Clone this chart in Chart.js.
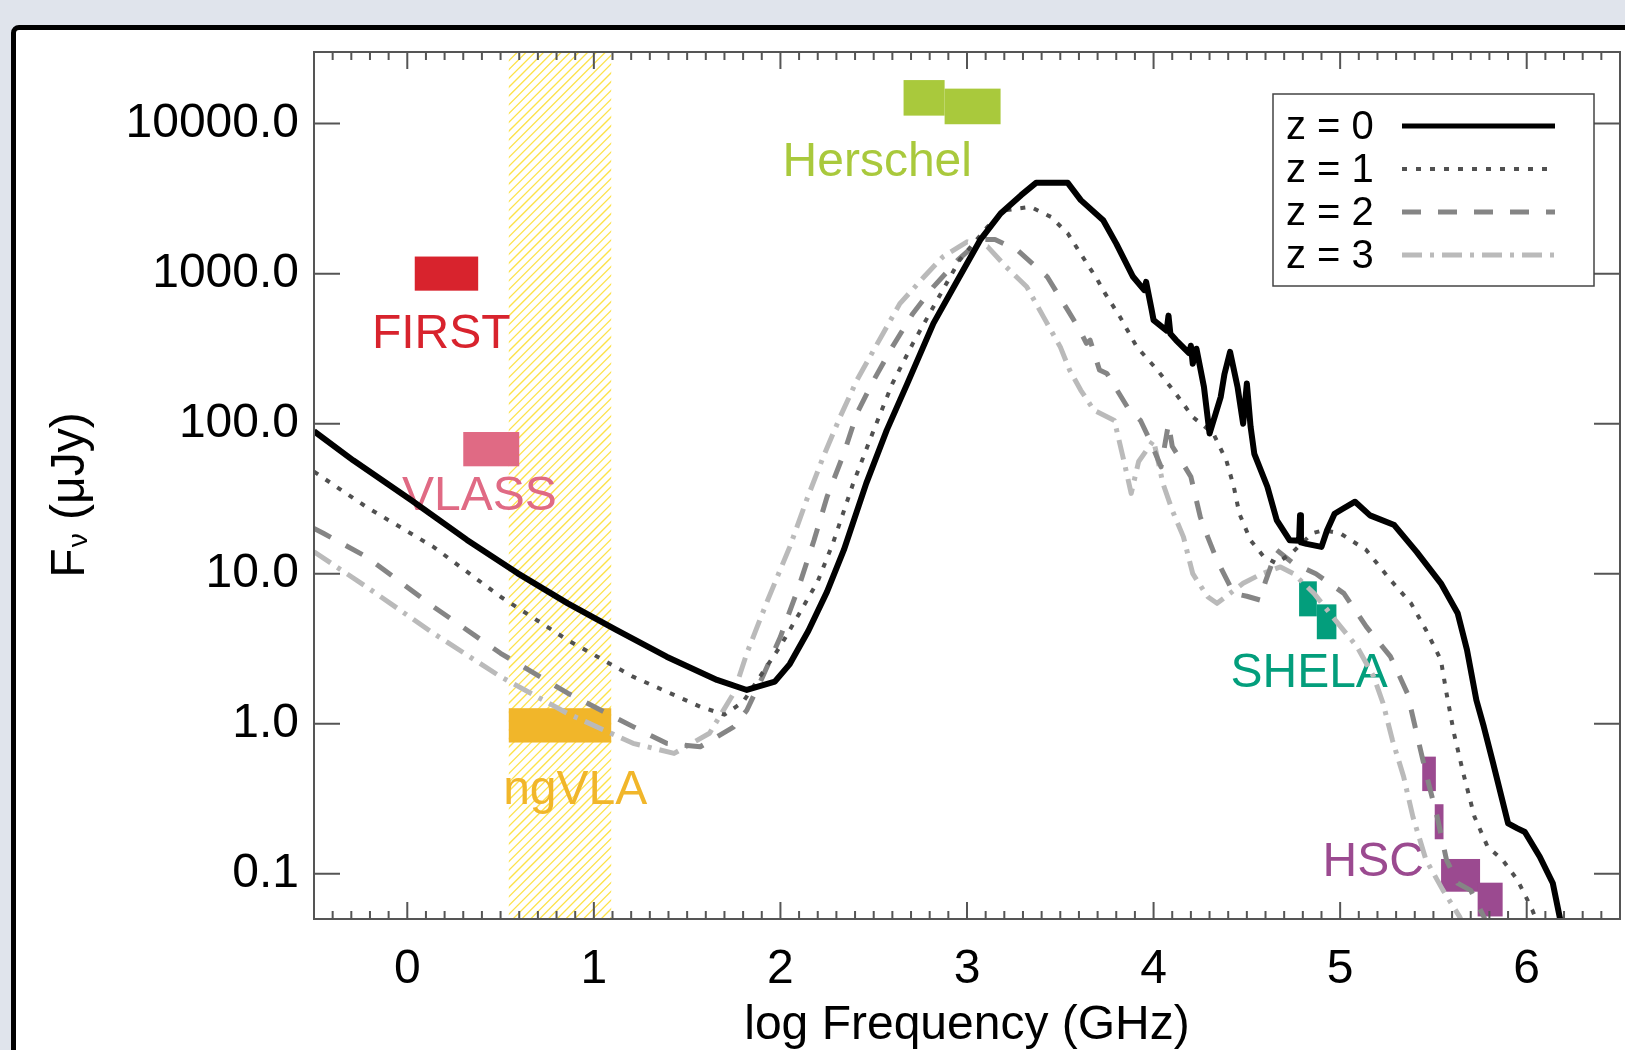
<!DOCTYPE html>
<html>
<head>
<meta charset="utf-8">
<title>SED templates vs survey depths</title>
<script src="https://cdn.jsdelivr.net/npm/chart.js@4.4.1/dist/chart.umd.min.js"></script>
<style>
  html, body { margin: 0; padding: 0; background: #e0e4ec; overflow: hidden; }
  #frame { position: absolute; left: 11px; top: 25px; width: 1700px; height: 1100px;
           border: 5px solid #000; border-radius: 8px; background: #fff; }
  #wrap { position: absolute; left: 0; top: 0; width: 1625px; height: 1050px; }
</style>
</head>
<body>
<div id="frame"></div>
<div id="wrap"><canvas id="sedChart" width="1625" height="1050"></canvas></div>
<script>
// SED TEMPLATES: x = log frequency (GHz), y = flux density (uJy)
const z0Freq = [-0.50, -0.29, 0.02, 0.32, 0.59, 0.86, 1.12, 1.39, 1.66, 1.82, 1.97, 2.05, 2.15, 2.25, 2.34, 2.46, 2.57, 2.68, 2.82, 2.95,
  3.07, 3.18, 3.29, 3.37, 3.54, 3.61, 3.73, 3.80, 3.89, 3.95, 3.96, 3.99, 4.00, 4.07, 4.08, 4.09, 4.12, 4.19, 4.20, 4.21,
  4.23, 4.27, 4.30, 4.36, 4.38, 4.41, 4.45, 4.48, 4.50, 4.52, 4.54, 4.61, 4.66, 4.73, 4.78, 4.785, 4.79, 4.82, 4.90, 4.93,
  4.97, 5.01, 5.08, 5.16, 5.29, 5.41, 5.54, 5.63, 5.68, 5.73, 5.77, 5.82, 5.90, 5.95, 5.99, 6.07, 6.14, 6.18, 6.20];
const z0Flux = [89, 57, 31, 16.8, 10.1, 6.35, 4.22, 2.80, 1.96, 1.68, 1.91, 2.5, 4.17, 7.6, 14.4, 40, 90.6, 185, 466, 906,
  1671, 2518, 3334, 4027, 4027, 3090, 2270, 1585, 953, 776, 881, 571, 490, 417, 525, 398, 361, 295, 331, 251,
  316, 176, 86, 151, 214, 301, 176, 100, 185, 95.5, 63, 38, 22.8, 16.7, 16.6, 24.5, 16.2, 15.8, 15.1, 19.5,
  25.1, 26.9, 30.2, 24.5, 21.1, 14.0, 8.63, 5.45, 3.10, 1.44, 0.957, 0.546, 0.217, 0.201, 0.19, 0.130, 0.0865, 0.0493, 0.0316];

const z1Freq = [-0.50, -0.22, 0.14, 0.50, 0.86, 1.21, 1.57, 1.70, 1.80, 1.90, 2.00, 2.10, 2.20, 2.28, 2.39, 2.50, 2.60, 2.71, 2.82, 2.96,
  3.11, 3.21, 3.34, 3.45, 3.54, 3.62, 3.70, 3.74, 3.82, 3.91, 4.02, 4.12, 4.21, 4.32, 4.39, 4.43, 4.46, 4.52, 4.59, 4.66,
  4.75, 4.85, 4.91, 5.00, 5.14, 5.27, 5.38, 5.46, 5.54, 5.57, 5.61, 5.66, 5.72, 5.79, 5.87, 5.95, 6.03, 6.08];
const z1Flux = [47.9, 27.9, 15.1, 7.03, 3.61, 2.06, 1.30, 1.15, 1.4, 2.15, 3.3, 5.4, 8.9, 15.8, 40, 90.6, 185, 343, 601, 1230,
  2051, 2649, 2786, 2388, 1854, 1294, 906, 738, 515, 325, 228, 158, 111, 86, 57, 38, 25.1, 16.7, 13.0, 11.7,
  14.1, 18.6, 19.5, 18.6, 14.4, 9.08, 6.35, 4.22, 2.66, 1.60, 0.865, 0.468, 0.240, 0.152, 0.124, 0.0912, 0.0575, 0.040];

const z2Freq = [-0.50, -0.45, -0.22, 0.14, 0.50, 0.86, 1.21, 1.39, 1.57, 1.75, 1.82, 1.90, 2.00, 2.10, 2.18, 2.25, 2.34, 2.41, 2.50, 2.60,
  2.71, 2.82, 2.95, 3.05, 3.09, 3.15, 3.27, 3.43, 3.54, 3.60, 3.64, 3.66, 3.71, 3.75, 3.86, 3.93, 3.98, 4.04, 4.08, 4.10,
  4.20, 4.25, 4.29, 4.34, 4.43, 4.50, 4.57, 4.60, 4.66, 4.75, 4.87, 5.02, 5.14, 5.27, 5.36, 5.41, 5.46, 5.52, 5.57, 5.63,
  5.70, 5.77, 5.80];
const z2Flux = [20, 18.6, 13.0, 6.03, 2.95, 1.60, 0.957, 0.741, 0.703, 0.955, 1.23, 2.0, 3.8, 8.3, 16.7, 32.6, 63.4, 117, 195, 325,
  543, 817, 1230, 1585, 1690, 1690, 1435, 953, 571, 430, 343, 360, 228, 216, 129, 105, 77.6, 51.6, 100, 70.8,
  44.3, 24, 17.6, 12.3, 7.40, 7.08, 6.68, 8.9, 14.4, 11.7, 10, 7.40, 4.44, 2.80, 1.60, 0.865, 0.468, 0.240, 0.124, 0.0865,
  0.0776, 0.0519, 0.040];

const z3Freq = [-0.50, -0.22, 0.14, 0.50, 0.86, 1.21, 1.43, 1.62, 1.75, 1.82, 1.93, 2.05, 2.14, 2.23, 2.32, 2.41, 2.52, 2.64, 2.77, 2.87,
  3.00, 3.11, 3.21, 3.32, 3.41, 3.50, 3.55, 3.61, 3.68, 3.79, 3.84, 3.88, 3.92, 4.00, 4.05, 4.10, 4.16, 4.21, 4.29, 4.34,
  4.40, 4.48, 4.58, 4.68, 4.75, 4.86, 4.96, 5.09, 5.18, 5.23, 5.28, 5.34, 5.39, 5.46, 5.55, 5.64, 5.68];
const z3Flux = [14.0, 8.20, 4.01, 2.06, 1.17, 0.741, 0.635, 0.865, 1.60, 2.95, 6.6, 15.1, 30.9, 60.3, 111, 195, 343, 631, 953, 1294,
  1629, 1514, 1109, 817, 515, 325, 228, 167, 123, 105, 57.1, 34.3, 56, 77.6, 40, 26.5, 17.6, 10, 7.03, 6.35,
  7.24, 8.63, 10, 11.1, 10, 7.40, 5.16, 3.27, 2.06, 1.37, 0.780, 0.445, 0.240, 0.124, 0.0782, 0.0519, 0.040];

const xTickValues = [0, 1, 2, 3, 4, 5, 6];
const yTickValues = [0.1, 1, 10, 100, 1000, 10000];

// SURVEY DEPTH BOXES: [logFreqMin, logFreqMax, fluxMin, fluxMax]
const firstBoxes = [[0.04, 0.38, 770, 1300]];
const vlassBoxes = [[0.30, 0.60, 52, 88]];
const ngvlaBoxes = [[0.544, 1.093, 0.75, 1.27]];
const ngvlaBand = [0.544, 1.093];
const herschelBoxes = [[2.66, 2.88, 11300, 19500], [2.88, 3.18, 9900, 17100]];
const shelaBoxes = [[4.78, 4.875, 5.2, 8.9], [4.875, 4.98, 3.66, 6.25]];
const hscBoxes = [[5.44, 5.513, 0.356, 0.604], [5.507, 5.554, 0.170, 0.291],
  [5.541, 5.75, 0.076, 0.1256], [5.737, 5.871, 0.052, 0.0873]];

const FONT = "'Liberation Sans', Arial, Helvetica, sans-serif";
Chart.defaults.font.family = FONT;

// label anchor = [log freq of text centre, flux at baseline]
const instruments = [
  { name: "FIRST", boxes: firstBoxes, color: "#d8232d", label: [0.182, 318] },
  { name: "VLASS", boxes: vlassBoxes, color: "#e06a84", label: [0.386, 26.6] },
  { name: "ngVLA", boxes: ngvlaBoxes, color: "#f1b62a", label: [0.90, 0.292] },
  { name: "Herschel", boxes: herschelBoxes, color: "#a9c93c", label: [2.519, 4470] },
  { name: "SHELA", boxes: shelaBoxes, color: "#039e7c", label: [4.834, 1.77] },
  { name: "HSC", boxes: hscBoxes, color: "#9b4a90", label: [5.177, 0.0973] },
];

function toPoints(xs, ys) {
  return xs.map((x, i) => ({ x: x, y: ys[i] }));
}

const decorPlugin = {
  id: "decor",
  beforeDatasetsDraw(chart) {
    const { ctx, chartArea: a, scales: { x, y } } = chart;
    ctx.save();
    ctx.beginPath();
    ctx.rect(a.left, a.top, a.right - a.left, a.bottom - a.top);
    ctx.clip();

    // HATCHED ngVLA BAND
    const bx0 = x.getPixelForValue(ngvlaBand[0]);
    const bx1 = x.getPixelForValue(ngvlaBand[1]);
    const h = a.bottom - a.top;
    ctx.save();
    ctx.beginPath();
    ctx.rect(bx0, a.top, bx1 - bx0, h);
    ctx.clip();
    ctx.beginPath();
    for (let s = bx0 - h; s < bx1; s += 8.8) {
      ctx.moveTo(s, a.bottom);
      ctx.lineTo(s + h, a.top);
    }
    ctx.strokeStyle = "#fde24a";
    ctx.lineWidth = 1.3;
    ctx.stroke();
    ctx.restore();

    // SURVEY BOXES + NAMES
    ctx.font = "48px " + FONT;
    ctx.textAlign = "center";
    ctx.textBaseline = "alphabetic";
    instruments.forEach((inst) => {
      ctx.fillStyle = inst.color;
      inst.boxes.forEach((b) => {
        const px0 = x.getPixelForValue(b[0]);
        const px1 = x.getPixelForValue(b[1]);
        const py0 = y.getPixelForValue(b[3]);
        const py1 = y.getPixelForValue(b[2]);
        ctx.fillRect(px0, py0, px1 - px0, py1 - py0);
      });
      ctx.fillText(inst.name, x.getPixelForValue(inst.label[0]), y.getPixelForValue(inst.label[1]));
    });
    ctx.restore();
  },
  afterDatasetsDraw(chart) {
    const { ctx, chartArea: a, scales: { x, y } } = chart;
    ctx.save();

    // FRAME + INWARD TICKS
    ctx.strokeStyle = "#555";
    ctx.lineWidth = 2;
    ctx.strokeRect(a.left, a.top, a.right - a.left, a.bottom - a.top);
    ctx.beginPath();
    y.ticks.forEach((t) => {
      const py = y.getPixelForValue(t.value);
      ctx.moveTo(a.left, py);
      ctx.lineTo(a.left + 26, py);
      ctx.moveTo(a.right - 26, py);
      ctx.lineTo(a.right, py);
    });
    for (let k = -5; k <= 65; k++) {
      const px = x.getPixelForValue(k / 10);
      const len = k % 10 === 0 ? 17 : 8;
      ctx.moveTo(px, a.bottom);
      ctx.lineTo(px, a.bottom - len);
      ctx.moveTo(px, a.top);
      ctx.lineTo(px, a.top + len);
    }
    ctx.stroke();

    // LEGEND
    const lx = a.right - 347, ly = a.top + 42, lw = 321, lh = 192;
    ctx.fillStyle = "#fff";
    ctx.fillRect(lx, ly, lw, lh);
    ctx.strokeStyle = "#444";
    ctx.lineWidth = 1.5;
    ctx.strokeRect(lx, ly, lw, lh);
    ctx.font = "40px " + FONT;
    ctx.textAlign = "left";
    ctx.textBaseline = "alphabetic";
    chart.data.datasets.forEach((ds, i) => {
      const cy = ly + 31 + i * 43;
      ctx.fillStyle = "#000";
      ctx.fillText(ds.label, lx + 13, cy + 14);
      ctx.beginPath();
      ctx.setLineDash(ds.borderDash || []);
      ctx.strokeStyle = ds.borderColor;
      ctx.lineWidth = Math.min(ds.borderWidth, 5);
      ctx.moveTo(lx + 129, cy + 1);
      ctx.lineTo(lx + 282, cy + 1);
      ctx.stroke();
    });
    ctx.setLineDash([]);

    // AXIS TITLES
    ctx.fillStyle = "#000";
    ctx.font = "48px " + FONT;
    ctx.textAlign = "center";
    ctx.fillText("log Frequency (GHz)", (a.left + a.right) / 2, a.bottom + 120);

    ctx.translate(84, (a.top + a.bottom) / 2 + 10);
    ctx.rotate(-Math.PI / 2);
    ctx.textAlign = "left";
    const big = "48px " + FONT, small = "28px " + FONT;
    ctx.font = big;
    const wF = ctx.measureText("F").width;
    const wRest = ctx.measureText(" (μJy)").width;
    ctx.font = small;
    const wNu = ctx.measureText("ν").width;
    let sx = -(wF + wNu + wRest) / 2;
    ctx.font = big;
    ctx.fillText("F", sx, 0);
    sx += wF;
    ctx.font = small;
    ctx.fillText("ν", sx + 1, 3);
    sx += wNu + 1;
    ctx.font = big;
    ctx.fillText(" (μJy)", sx, 0);
    ctx.restore();
  },
};

new Chart(document.getElementById("sedChart"), {
  type: "line",
  data: {
    datasets: [
      { label: "z = 0", data: toPoints(z0Freq, z0Flux), borderColor: "#000000", borderWidth: 6, borderDash: [] },
      { label: "z = 1", data: toPoints(z1Freq, z1Flux), borderColor: "#505050", borderWidth: 4, borderDash: [5, 9] },
      { label: "z = 2", data: toPoints(z2Freq, z2Flux), borderColor: "#858585", borderWidth: 5, borderDash: [19, 17] },
      { label: "z = 3", data: toPoints(z3Freq, z3Flux), borderColor: "#bababa", borderWidth: 5, borderDash: [20, 8, 4, 8] },
    ],
  },
  options: {
    responsive: false,
    animation: false,
    devicePixelRatio: 1,
    layout: { padding: { top: 52, right: 5, left: 0, bottom: 0 } },
    elements: {
      point: { radius: 0, hoverRadius: 0 },
      line: { tension: 0, fill: false, borderCapStyle: "butt", borderJoinStyle: "round" },
    },
    plugins: { legend: { display: false }, tooltip: { enabled: false } },
    scales: {
      x: {
        type: "linear",
        min: -0.5,
        max: 6.5,
        afterBuildTicks: (scale) => {
          scale.ticks = xTickValues.map((v) => ({ value: v }));
        },
        afterFit: (scale) => {
          scale.height = 131;
        },
        grid: { display: false, drawTicks: false },
        border: { display: false },
        ticks: {
          color: "#000",
          font: { size: 48, family: FONT },
          padding: 22,
          maxRotation: 0,
          autoSkip: false,
          callback: (v) => String(v),
        },
      },
      y: {
        type: "logarithmic",
        min: 0.05,
        max: 30000,
        afterBuildTicks: (scale) => {
          scale.ticks = yTickValues.map((v) => ({ value: v }));
        },
        afterFit: (scale) => {
          scale.width = 314;
        },
        grid: { display: false, drawTicks: false },
        border: { display: false },
        ticks: {
          color: "#000",
          font: { size: 48, family: FONT },
          padding: 15,
          autoSkip: false,
          callback: (v) => Number(v).toFixed(1),
        },
      },
    },
  },
  plugins: [decorPlugin],
});
</script>
</body>
</html>
